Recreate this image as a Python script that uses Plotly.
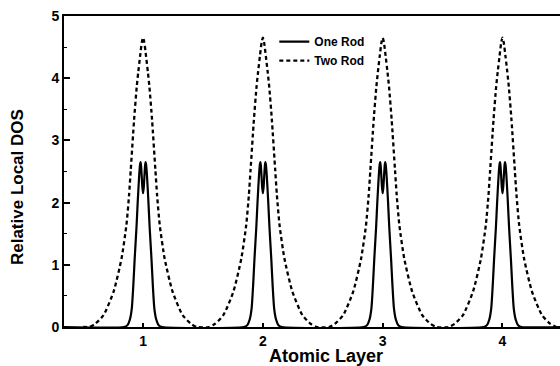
import plotly.graph_objects as go

# Atomic layer centres
layers = [1, 2, 3, 4]

# Half-profile of each peak: offset from layer centre and Relative Local DOS
two_rod_offsets = [0.0, 0.01, 0.025, 0.04, 0.053, 0.075, 0.103, 0.117, 0.139, 0.18, 0.246, 0.33, 0.40, 0.45]
two_rod_values = [4.65, 4.58, 4.35, 4.10, 3.86, 3.33, 2.52, 2.12, 1.64, 1.10, 0.57, 0.19, 0.05, 0.0]

one_rod_offsets = [0.0, 0.006, 0.012, 0.017, 0.021, 0.026, 0.032, 0.038, 0.045, 0.055, 0.07, 0.082, 0.094, 0.11, 0.13, 0.16]
one_rod_values = [2.15, 2.25, 2.45, 2.60, 2.65, 2.60, 2.45, 2.25, 2.00, 1.60, 1.10, 0.65, 0.30, 0.12, 0.03, 0.0]

x_ticks = [1, 2, 3, 4]
y_ticks = [0, 1, 2, 3, 4, 5]


def build(offsets, values, start, end):
    xs, ys = [start], [0.0]
    for c in layers:
        for d, v in zip(reversed(offsets), reversed(values)):
            xs.append(c - d)
            ys.append(v)
        for d, v in zip(offsets[1:], values[1:]):
            xs.append(c + d)
            ys.append(v)
    xs.append(end)
    ys.append(0.0)
    return xs, ys


x1, y1 = build(one_rod_offsets, one_rod_values, 0.34, 4.48)
x2, y2 = build(two_rod_offsets, two_rod_values, 0.50, 4.46)

FONT = "Liberation Sans, Arial, sans-serif"

fig = go.Figure()
fig.add_trace(go.Scatter(x=x1, y=y1, mode="lines", name="One Rod",
                         line=dict(color="black", width=2.2, shape="spline", smoothing=0.6)))
fig.add_trace(go.Scatter(x=x2, y=y2, mode="lines", name="Two Rod",
                         line=dict(color="black", width=2.3, dash="4px,3px", shape="spline", smoothing=0.6)))

fig.update_layout(
    width=560, height=366,
    margin=dict(l=64, r=0, t=16, b=39),
    paper_bgcolor="white", plot_bgcolor="white",
    font=dict(family=FONT, color="black", size=13, weight="bold"),
    showlegend=True,
    legend=dict(x=0.424, y=0.964, xanchor="left", yanchor="top",
                bgcolor="rgba(0,0,0,0)", font=dict(size=12, weight="bold"),
                tracegroupgap=0, itemwidth=30),
    xaxis=dict(range=[0.34, 4.48], tickvals=x_ticks, ticktext=[str(t) for t in x_ticks],
               showgrid=False, zeroline=False, showline=True, linecolor="black", linewidth=2,
               mirror=True, ticks="inside", ticklen=4, tickwidth=1.5, tickcolor="black",
               tickfont=dict(size=14, weight="bold")),
    yaxis=dict(range=[0, 5], tickvals=y_ticks, ticktext=[str(t) for t in y_ticks],
               showgrid=False, zeroline=False, showline=True, linecolor="black", linewidth=2,
               ticks="inside", ticklen=6, tickwidth=1.5, tickcolor="black",
               minor=dict(dtick=0.5, ticks="inside", ticklen=3, tickwidth=1, tickcolor="black"),
               tickfont=dict(size=14, weight="bold")),
    annotations=[
        dict(text="Atomic Layer", xref="paper", yref="paper", x=0.528, y=0, yshift=-29,
             xanchor="center", yanchor="middle", showarrow=False,
             font=dict(size=18, weight="bold", family=FONT)),
        dict(text="Relative Local DOS", xref="paper", yref="paper", x=0, xshift=-47, y=0.45,
             xanchor="center", yanchor="middle", textangle=-90, showarrow=False,
             font=dict(size=17, weight="bold", family=FONT)),
    ],
)

fig.write_html("out.html", config={"displayModeBar": False},
               post_script="document.body.style.margin='0';document.body.style.overflow='hidden';")
